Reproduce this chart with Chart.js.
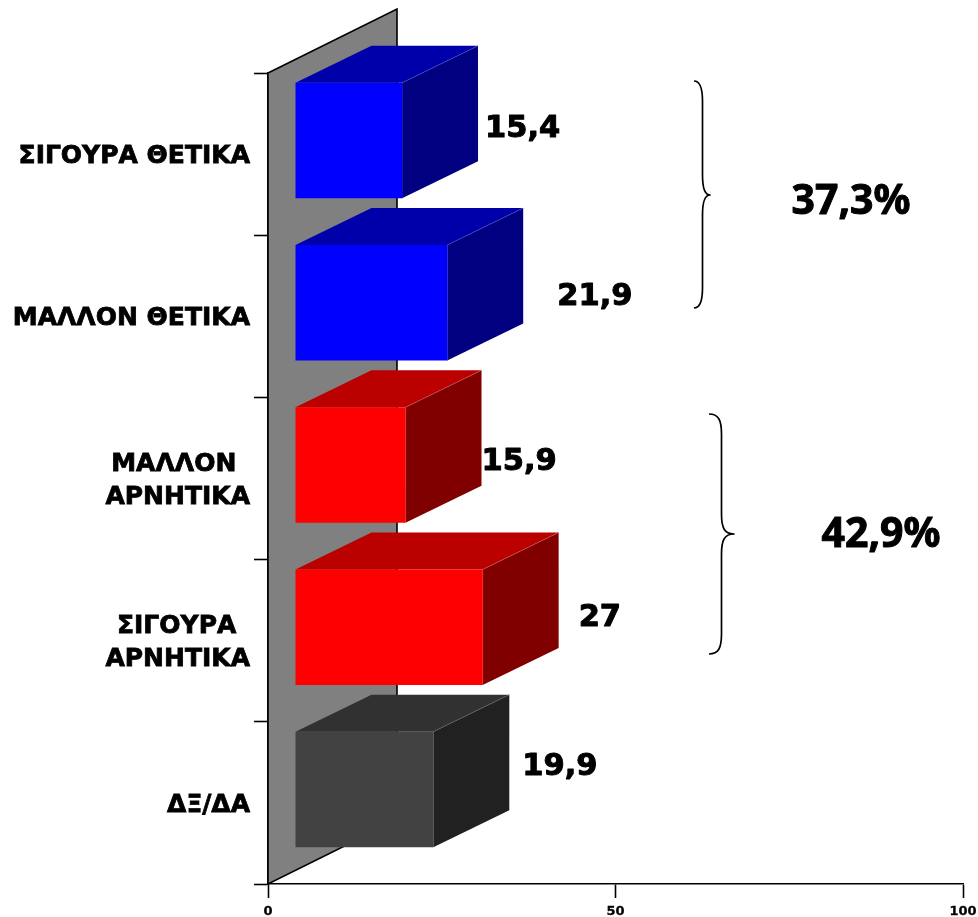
<!DOCTYPE html>
<html>
<head>
<meta charset="utf-8">
<title>chart</title>
<script src="https://cdn.jsdelivr.net/npm/chart.js@4/dist/chart.umd.min.js"></script>
<style>
html,body{margin:0;padding:0;background:#fff;}
canvas{display:block;}
</style>
</head>
<body>
<canvas id="myChart" width="978" height="917"></canvas>
<script>
var categories=[
    'ΣΙΓΟΥΡΑ ΘΕΤΙΚΑ',
    'ΜΑΛΛΟΝ ΘΕΤΙΚΑ',
    ['ΜΑΛΛΟΝ \u2009','ΑΡΝΗΤΙΚΑ'],
    ['ΣΙΓΟΥΡΑ \u2009','ΑΡΝΗΤΙΚΑ'],
    'ΔΞ/ΔΑ'
];
var values=[15.4,21.9,15.9,27,19.9];
var valueLabels=['15,4','21,9','15,9','27','19,9'];
var xTicks=[0,50,100];
var groupLabels=['37,3%','42,9%'];

// colours per bar
var frontColors=['#0000ff','#0000ff','#ff0000','#ff0000','#424242'];
var topColors=['#0000ab','#0000ab','#bb0000','#bb0000','#313131'];
var sideColors=['#000080','#000080','#800000','#800000','#212121'];
var edgeColors=['#4a4acc','#4a4acc','#cc5a5a','#cc5a5a','#6a6a6a'];

// fake 3d settings, in px
var shiftX=27, shiftY=-13.5;
var boxDX=76, boxDY=-37;
var wallDX=129, wallDY=-64;
// where the value text sits, from back corner of box / middle of bar
var labelDX=[7,34,0,20,13];
var labelDY=[-12,-6,-3,-9,-22];

function poly(ctx,pts,fill,stroke,lw){
    ctx.beginPath();
    ctx.moveTo(pts[0][0],pts[0][1]);
    for(var i=1;i<pts.length;i++){
        ctx.lineTo(pts[i][0],pts[i][1]);
    }
    ctx.closePath();
    if(fill){ctx.fillStyle=fill;ctx.fill();}
    if(stroke){ctx.strokeStyle=stroke;ctx.lineWidth=lw||1;ctx.stroke();}
}

function brace(ctx,x,top,mid,bottom,tip,left){
    ctx.beginPath();
    ctx.moveTo(left,top);
    ctx.bezierCurveTo(x-3,top,x,top+6,x,top+20);
    ctx.lineTo(x,mid-20);
    ctx.bezierCurveTo(x,mid-6,x+3,mid,tip,mid);
    ctx.bezierCurveTo(x+3,mid,x,mid+6,x,mid+20);
    ctx.lineTo(x,bottom-20);
    ctx.bezierCurveTo(x,bottom-6,x-3,bottom,left,bottom);
    ctx.strokeStyle='#000';
    ctx.lineWidth=1.7;
    ctx.stroke();
}

var box3d={
    id:'box3d',
    beforeDatasetsDraw:function(chart){
        var ctx=chart.ctx, a=chart.chartArea;
        ctx.save();
        // back wall
        poly(ctx,[[a.left,a.top],[a.left+wallDX,a.top+wallDY],[a.left+wallDX,a.bottom+wallDY],[a.left,a.bottom]],'#808080','#000',1.6);
        // top and side of every bar
        var bars=chart.getDatasetMeta(0).data;
        for(var i=0;i<bars.length;i++){
            var b=bars[i];
            var x0=b.base+shiftX, x1=b.x+shiftX;
            var y0=b.y-b.height/2+shiftY, y1=b.y+b.height/2+shiftY;
            poly(ctx,[[x0,y0],[x0+boxDX,y0+boxDY],[x1+boxDX,y0+boxDY],[x1,y0]],topColors[i]);
            poly(ctx,[[x1,y0],[x1+boxDX,y0+boxDY],[x1+boxDX,y1+boxDY],[x1,y1]],sideColors[i]);
            ctx.strokeStyle=edgeColors[i];
            ctx.lineWidth=0.6;
            ctx.beginPath();
            ctx.moveTo(x1,y1);
            ctx.lineTo(x1,y0);
            ctx.lineTo(x1+boxDX,y0+boxDY);
            ctx.stroke();
        }
        ctx.restore();
    },
    beforeDatasetDraw:function(chart){
        chart.ctx.save();
        chart.ctx.translate(shiftX,shiftY);
    },
    afterDatasetDraw:function(chart){
        chart.ctx.restore();
    },
    afterDraw:function(chart){
        var ctx=chart.ctx;
        var bars=chart.getDatasetMeta(0).data;
        ctx.save();
        ctx.fillStyle='#000';
        ctx.strokeStyle='#000';
        ctx.lineWidth=1;
        ctx.lineJoin='round';
        ctx.textBaseline='middle';
        ctx.textAlign='left';
        ctx.font='bold 30.5px "DejaVu Sans"';
        for(var i=0;i<bars.length;i++){
            var tx=bars[i].x+shiftX+boxDX+labelDX[i];
            var ty=bars[i].y+shiftY+labelDY[i];
            ctx.fillText(valueLabels[i],tx,ty);
            ctx.strokeText(valueLabels[i],tx,ty);
        }
        brace(ctx,702.5,81,195,308,710,694);
        brace(ctx,721.5,414,534,654,734,709);
        ctx.fillStyle='#000';
        ctx.strokeStyle='#000';
        ctx.lineWidth=1;
        ctx.textAlign='center';
        ctx.font='bold 41px "Noto Sans"';
        ctx.fillText(groupLabels[0],851,202);
        ctx.strokeText(groupLabels[0],851,202);
        ctx.fillText(groupLabels[1],881,535);
        ctx.strokeText(groupLabels[1],881,535);
        ctx.restore();
    }
};

var chartContainer=document.getElementById('myChart');
var myChart=new Chart(chartContainer,{
    type:'bar',
    data:{
        labels:categories,
        datasets:[{
            data:values,
            backgroundColor:frontColors,
            borderWidth:0,
            barPercentage:0.712,
            categoryPercentage:1
        }]
    },
    plugins:[box3d],
    options:{
        indexAxis:'y',
        responsive:false,
        animation:false,
        events:[],
        layout:{padding:{top:73,right:15,left:0,bottom:0}},
        plugins:{legend:{display:false},tooltip:{enabled:false},title:{display:false}},
        scales:{
            x:{
                min:0,
                max:100,
                afterFit:function(scale){
                    scale.height=33;
                    scale.paddingLeft=0;
                    scale.paddingRight=0;
                },
                afterBuildTicks:function(scale){
                    scale.ticks=xTicks.map(function(v){return {value:v};});
                },
                grid:{drawOnChartArea:false,tickLength:14,tickColor:'#000',tickWidth:1.6},
                border:{color:'#000',width:1.6},
                ticks:{color:'#000',padding:6,maxRotation:0,textStrokeColor:'#000',textStrokeWidth:0.3,font:{family:'"DejaVu Sans"',size:13,weight:'bold'}}
            },
            y:{
                afterFit:function(scale){scale.width=268;},
                grid:{drawOnChartArea:false,tickLength:14,tickColor:'#000',tickWidth:1.6},
                border:{color:'#000',width:1.6},
                ticks:{color:'#000',padding:4,autoSkip:false,labelOffset:2.5,textStrokeColor:'#000',textStrokeWidth:0.8,font:{family:'"DejaVu Sans"',size:25,weight:'bold',lineHeight:1.33}}
            }
        }
    }
});
</script>
</body>
</html>
